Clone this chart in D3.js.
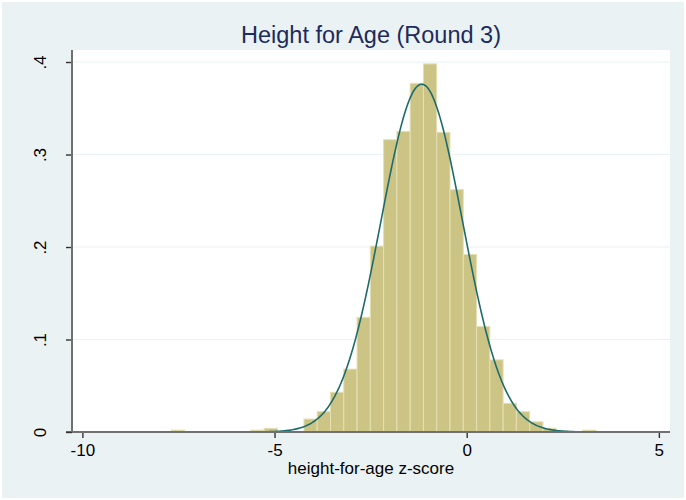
<!DOCTYPE html>
<html>
<head>
<meta charset="utf-8">
<script src="https://cdn.jsdelivr.net/npm/d3@7"></script>
<style>
  body { margin: 0; background: #eaf2f3; }
  text { font-family: "Liberation Sans", Arial, sans-serif; }
</style>
</head>
<body>
<div id="chart"></div>
<script>
// histogram of height-for-age z-scores (density per bin)
var binStart = -7.69;
var binWidth = 0.3455;
var density = [0.002, 0, 0, 0, 0, 0, 0.002, 0.004, 0, 0,
               0.014, 0.022, 0.043, 0.068, 0.124, 0.201, 0.316, 0.325, 0.377, 0.398,
               0.324, 0.262, 0.192, 0.114, 0.078, 0.031, 0.022, 0.011, 0.004, 0.001,
               0, 0.002];

// normal overlay parameters
var normMean = -1.17;
var normSd = 1.061;

var xTicks = [-10, -5, 0, 5];
var yTicks = [0, 0.1, 0.2, 0.3, 0.4];
var yTickLabels = ["0", ".1", ".2", ".3", ".4"];

var title = "Height for Age (Round 3)";
var xTitle = "height-for-age z-score";

// set the dimensions and margins of the graph
var margin = {top: 50, right: 16, bottom: 68, left: 72},
    width = 686 - margin.left - margin.right,
    height = 500 - margin.top - margin.bottom;

var x = d3.scaleLinear()
    .domain([-10.27, 5.29])
    .range([0, width]);

var y = d3.scaleLinear()
    .domain([0, 0.413])
    .range([height, 0]);

var svgRoot = d3.select("#chart").append("svg")
    .attr("width", 686)
    .attr("height", 500);

// background with thin white outer frame
svgRoot.append("rect")
    .attr("x", 1).attr("y", 1)
    .attr("width", 684)
    .attr("height", 498)
    .attr("fill", "#eaf2f3")
    .attr("stroke", "#ffffff")
    .attr("stroke-width", 2);

var svg = svgRoot.append("g")
    .attr("transform", "translate(" + margin.left + "," + margin.top + ")");

// white plot region
svg.append("rect")
    .attr("width", width)
    .attr("height", height)
    .attr("fill", "#ffffff");

// gridlines
svg.selectAll(".grid")
    .data(yTicks.slice(1))
    .enter().append("line")
    .attr("x1", 0)
    .attr("x2", width)
    .attr("y1", function(d) { return y(d); })
    .attr("y2", function(d) { return y(d); })
    .attr("stroke", "#eaf2f3")
    .attr("stroke-width", 1.2);

// bars
var bins = density.map(function(d, i) {
    return {x0: binStart + i * binWidth, x1: binStart + (i + 1) * binWidth, v: d};
});

svg.selectAll(".bar")
    .data(bins.filter(function(d) { return d.v > 0; }))
    .enter().append("rect")
    .attr("class", "bar")
    .attr("x", function(d) { return x(d.x0); })
    .attr("width", function(d) { return x(d.x1) - x(d.x0); })
    .attr("y", function(d) { return y(d.v); })
    .attr("height", function(d) { return y(0) - y(d.v); })
    .attr("fill", "#cbc485")
    .attr("stroke", "#e4e0b4")
    .attr("stroke-width", 1);

// normal density curve over the data range
var xs = d3.range(0, 401).map(function(i) {
    return binStart + i * (density.length * binWidth) / 400;
});
var line = d3.line()
    .x(function(d) { return x(d); })
    .y(function(d) {
        var z = (d - normMean) / normSd;
        return y(Math.exp(-0.5 * z * z) / (normSd * Math.sqrt(2 * Math.PI)));
    });

svg.append("path")
    .datum(xs)
    .attr("d", line)
    .attr("fill", "none")
    .attr("stroke", "#1f6b6b")
    .attr("stroke-width", 1.6);

// axes
var xAxis = svg.append("g")
    .attr("transform", "translate(0," + height + ")")
    .call(d3.axisBottom(x).tickValues(xTicks).tickSize(6).tickPadding(6)
        .tickFormat(function(d) { return d; }));
xAxis.select(".domain").remove();
xAxis.append("line")
    .attr("x1", -6).attr("x2", width)
    .attr("stroke", "#707070").attr("stroke-width", 2);
xAxis.selectAll(".tick line").attr("stroke", "#333").attr("stroke-width", 1.4);
xAxis.selectAll("text")
    .attr("fill", "#000")
    .style("font-size", "17px");

var yAxis = svg.append("g")
    .call(d3.axisLeft(y).tickValues(yTicks).tickSize(6)
        .tickFormat(function(d, i) { return yTickLabels[i]; }));
yAxis.select(".domain").remove();
yAxis.append("line")
    .attr("y1", 0).attr("y2", height)
    .attr("stroke", "#707070").attr("stroke-width", 2);
yAxis.selectAll(".tick line").attr("stroke", "#333").attr("stroke-width", 1.4);
yAxis.selectAll("text")
    .attr("fill", "#000")
    .attr("x", null)
    .attr("dy", null)
    .attr("text-anchor", "middle")
    .attr("transform", "translate(-32,0) rotate(-90)")
    .attr("y", 6)
    .style("font-size", "17px");

// titles
svgRoot.append("text")
    .attr("x", margin.left + width / 2)
    .attr("y", 43)
    .attr("text-anchor", "middle")
    .attr("fill", "#1e2b5c")
    .style("font-size", "23.5px")
    .text(title);

svgRoot.append("text")
    .attr("x", margin.left + width / 2)
    .attr("y", 474)
    .attr("text-anchor", "middle")
    .attr("fill", "#000")
    .style("font-size", "17px")
    .text(xTitle);
</script>
</body>
</html>
